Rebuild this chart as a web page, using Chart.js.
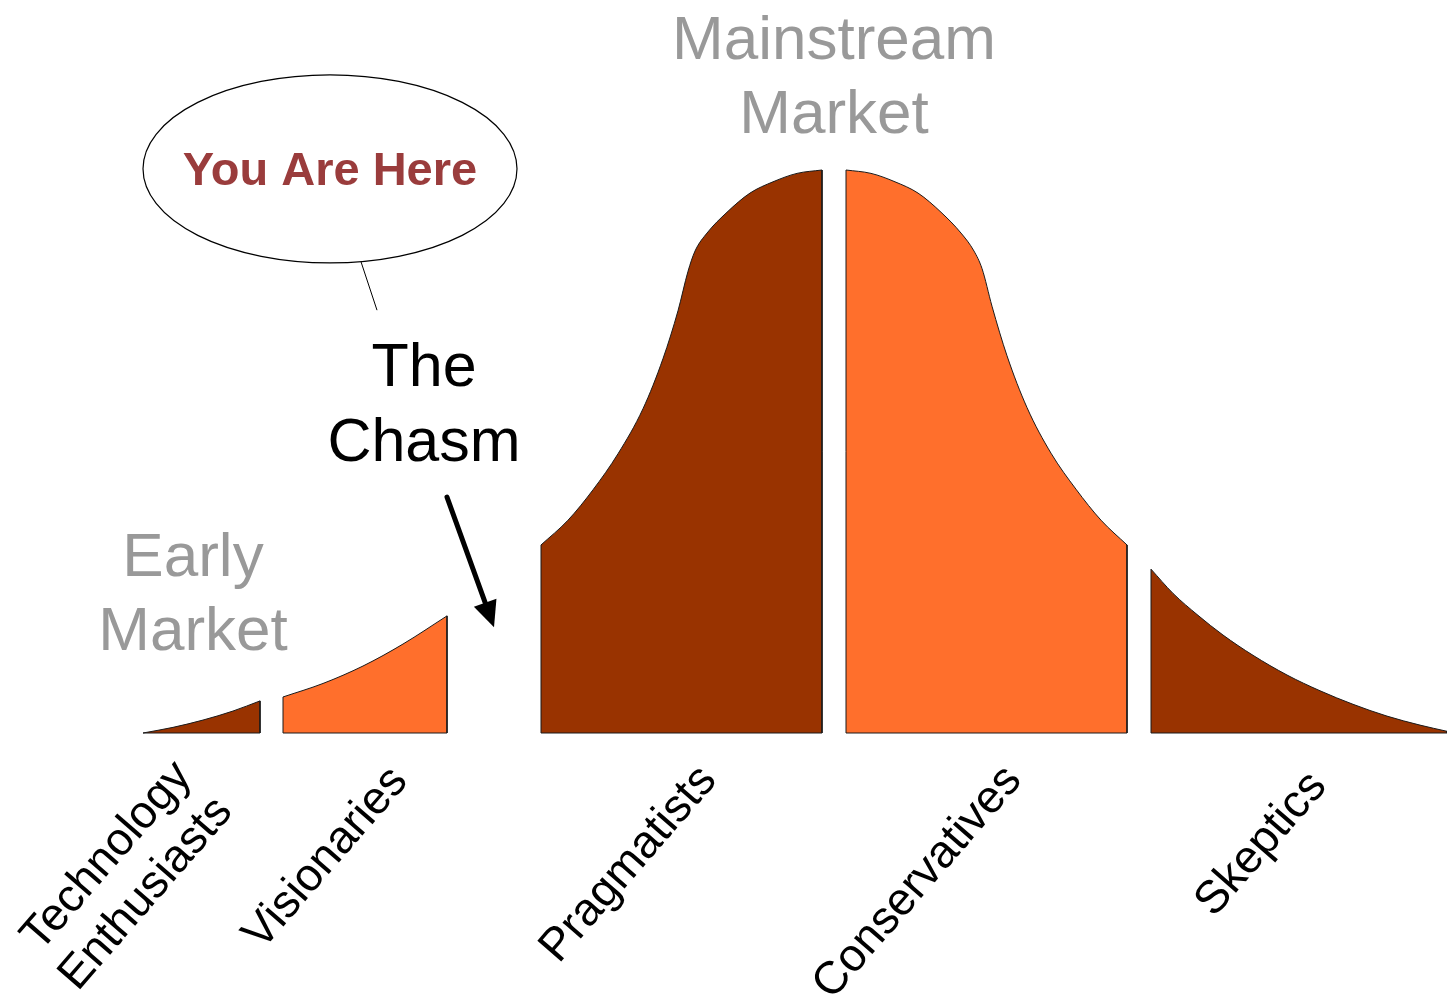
<!DOCTYPE html>
<html>
<head>
<meta charset="utf-8">
<script src="https://cdn.jsdelivr.net/npm/chart.js@4/dist/chart.umd.min.js"></script>
<style>
html,body{margin:0;padding:0;background:#fff;overflow:hidden}
#wrap{width:1447px;height:997px;position:relative}
</style>
</head>
<body>
<div id="wrap"><canvas id="c"></canvas></div>
<script>
// ---- data (x: adoption timeline units, y: relative population, peak = 100) ----
const categories = [["Technology", "Enthusiasts"], "Visionaries", "Pragmatists", "Conservatives", "Skeptics"];

const techX = [0, 3.0, 6.0, 9.0, 11.7];
const techY = [0, 1.0, 2.3, 3.9, 5.7];

const visX = [14.0, 18.0, 22.0, 26.0, 30.4];
const visY = [6.4, 8.8, 11.9, 15.8, 20.8];

const pragX = [39.8, 42.5, 45.0, 47.5, 50.0, 52.0, 53.5, 54.5, 55.2, 56.4, 58.4, 60.7, 63.0, 65.4, 67.9];
const pragY = [33.4, 37.8, 43.2, 49.6, 57.6, 66.5, 75.0, 82.0, 85.6, 88.8, 92.5, 95.9, 97.9, 99.4, 100];

const consX = [70.3, 72.8, 75.2, 77.5, 79.8, 81.8, 83.1, 83.9, 84.9, 86.4, 88.4, 90.8, 93.3, 95.8, 98.4];
const consY = [100, 99.4, 97.9, 95.9, 92.5, 88.8, 85.6, 82.5, 75.8, 67.0, 57.8, 49.7, 43.3, 37.8, 33.4];

const skepX = [100.8, 103.0, 105.5, 108.0, 111.0, 114.4, 117.7, 121.0, 124.4, 127.7, 130.4];
const skepY = [29.1, 24.8, 20.9, 17.4, 13.8, 10.3, 7.5, 5.1, 3.0, 1.4, 0.3];

// ---- styling / layout ----
const DARK = '#993300';
const ORANGE = '#FF6F2C';
const EDGE = '#1a1a1a';
const FONT = '"Liberation Sans", Arial, Helvetica, sans-serif';

const segs = [
  {x: techX, y: techY, c: DARK},
  {x: visX,  y: visY,  c: ORANGE},
  {x: pragX, y: pragY, c: DARK},
  {x: consX, y: consY, c: ORANGE},
  {x: skepX, y: skepY, c: DARK}
];

const datasets = [];
segs.forEach(s => {
  const pts = s.x.map((v, i) => ({x: v, y: s.y[i]}));
  const n = pts.length - 1;
  datasets.push({
    data: pts, fill: 'origin', backgroundColor: s.c, borderColor: EDGE, borderWidth: 1,
    pointRadius: 0, cubicInterpolationMode: 'monotone', order: 1, clip: false
  });
  datasets.push({
    data: [pts[n], {x: pts[n].x, y: 0}, {x: pts[0].x, y: 0}, pts[0]],
    fill: false, borderColor: EDGE, borderWidth: 1, pointRadius: 0, tension: 0, order: 0, clip: false
  });
});

// label anchors: [x value at text end, drop below baseline in px]
const labelPos = [[5.0, 44], [26.6, 49], [57.5, 48], [88.0, 48], [118.5, 54]];
const LABEL_ANGLE = 49 * Math.PI / 180;

const deco = {
  id: 'deco',
  afterDatasetsDraw(chart) {
    const {ctx, scales: {x, y}} = chart;
    const X = v => x.getPixelForValue(v), Y = v => y.getPixelForValue(v);
    ctx.save();

    // category labels, rotated
    ctx.font = '46px ' + FONT;
    ctx.fillStyle = '#000';
    ctx.textAlign = 'right';
    ctx.textBaseline = 'alphabetic';
    categories.forEach((cat, i) => {
      const lines = [].concat(cat);
      ctx.save();
      ctx.translate(X(labelPos[i][0]), Y(0) + labelPos[i][1]);
      ctx.rotate(-LABEL_ANGLE);
      lines.forEach((t, j) => ctx.fillText(t, 0, j * 54));
      ctx.restore();
    });

    // market headings
    ctx.textAlign = 'center';
    ctx.fillStyle = '#999999';
    ctx.font = '62px ' + FONT;
    ctx.fillText('Mainstream', X(69.1), Y(119.7));
    ctx.fillText('Market', X(69.1), Y(106.6));
    ctx.fillText('Early', X(5.0), Y(27.9));
    ctx.fillText('Market', X(5.0), Y(14.7));

    // The Chasm
    ctx.fillStyle = '#000';
    ctx.font = '61px ' + FONT;
    ctx.fillText('The', X(28.1), Y(61.6));
    ctx.fillText('Chasm', X(28.1), Y(48.3));

    // speech bubble
    const cx = X(18.7), cy = Y(100.2);
    const rx = X(18.7 + 18.7) - cx, ry = cy - Y(100.2 + 16.7);
    ctx.beginPath();
    ctx.ellipse(cx, cy, rx, ry, 0, 0, Math.PI * 2);
    ctx.fillStyle = '#fff';
    ctx.fill();
    ctx.lineWidth = 1.2;
    ctx.strokeStyle = '#000';
    ctx.stroke();
    ctx.beginPath();
    ctx.moveTo(X(21.8), Y(83.7));
    ctx.lineTo(X(23.4), Y(75.1));
    ctx.lineWidth = 1;
    ctx.stroke();
    ctx.fillStyle = '#9A3C3C';
    ctx.font = 'bold 47px ' + FONT;
    ctx.fillText('You Are Here', X(18.7), Y(97.3));

    // arrow into the chasm
    const x0 = X(30.4), y0 = Y(41.9), x1 = X(35.1), y1 = Y(18.8);
    const ang = Math.atan2(y1 - y0, x1 - x0);
    const hl = 26, hw = 12;
    const bx = x1 - hl * Math.cos(ang), by = y1 - hl * Math.sin(ang);
    ctx.beginPath();
    ctx.moveTo(x0, y0);
    ctx.lineTo(bx, by);
    ctx.lineWidth = 5;
    ctx.lineCap = 'round';
    ctx.strokeStyle = '#000';
    ctx.stroke();
    ctx.beginPath();
    ctx.moveTo(x1, y1);
    ctx.lineTo(bx + hw * Math.sin(ang), by - hw * Math.cos(ang));
    ctx.lineTo(bx - hw * Math.sin(ang), by + hw * Math.cos(ang));
    ctx.closePath();
    ctx.fillStyle = '#000';
    ctx.fill();

    ctx.restore();
  }
};

new Chart(document.getElementById('c'), {
  type: 'line',
  data: {datasets},
  options: {
    responsive: true,
    maintainAspectRatio: false,
    animation: false,
    events: [],
    layout: {padding: {left: 143, right: 0, top: 170, bottom: 264}},
    plugins: {legend: {display: false}, tooltip: {enabled: false}},
    scales: {
      x: {type: 'linear', min: 0, max: 130.4, display: false},
      y: {min: 0, max: 100, display: false}
    }
  },
  plugins: [deco]
});
</script>
</body>
</html>
